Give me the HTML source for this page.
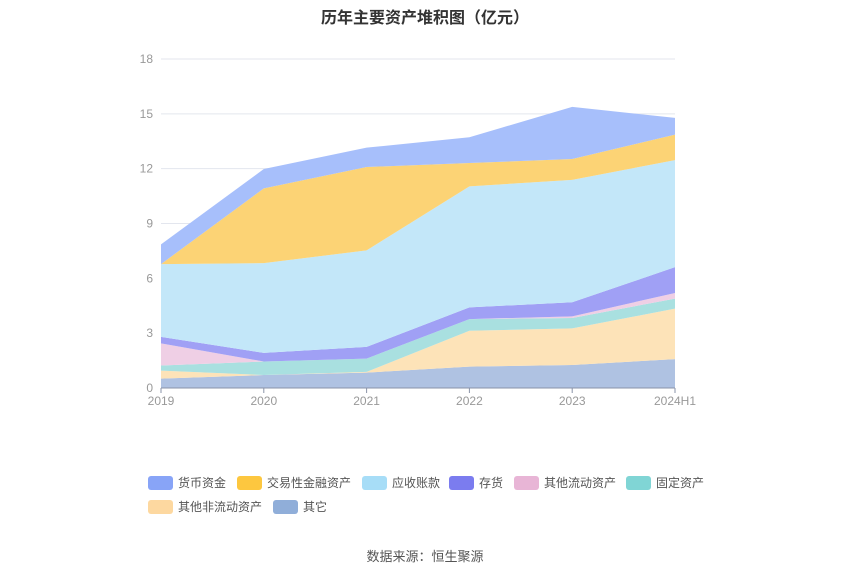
<!DOCTYPE html>
<html><head><meta charset="utf-8">
<style>
body{margin:0;background:#fff;font-family:"Liberation Sans","Noto Sans CJK SC",sans-serif;}
#wrap{position:relative;width:850px;height:575px;overflow:hidden;}
.title{position:absolute;top:4px;left:0;width:850px;text-align:center;font-size:16px;font-weight:bold;color:#333;}
.src{position:absolute;top:546px;left:0;width:850px;text-align:center;font-size:13px;color:#555;}
.lg{position:absolute;font-size:12px;color:#555;line-height:14px;}
.mk{position:absolute;width:25px;height:14px;border-radius:3px;}
</style></head>
<body>
<div id="wrap">
<div class="title">历年主要资产堆积图（亿元）</div>
<svg id="svg" width="850" height="575" style="position:absolute;left:0;top:0"></svg>
<div id="legend"></div>
<div class="src">数据来源：恒生聚源</div>
</div>
<script>
const categories=["2019","2020","2021","2022","2023","2024H1"];
const yTicks=[0,3,6,9,12,15,18];
const seriesNames=["其它","其他非流动资产","固定资产","其他流动资产","存货","应收账款","交易性金融资产","货币资金"];
const other=[0.51,0.71,0.84,1.17,1.26,1.58];
const nonCurrent=[0.44,0,0.04,1.96,2.0,2.76];
const fixedAssets=[0.28,0.74,0.73,0.64,0.57,0.55];
const otherCurrent=[1.21,0,0,0,0.09,0.31];
const inventory=[0.36,0.47,0.64,0.64,0.77,1.41];
const receivable=[3.98,4.91,5.28,6.62,6.70,5.86];
const trading=[0,4.09,4.56,1.28,1.14,1.39];
const cash=[1.08,1.06,1.06,1.41,2.85,0.92];
const seriesValues=[other,nonCurrent,fixedAssets,otherCurrent,inventory,receivable,trading,cash];
const fills=["#afc2e2","#fde3b8","#a9e0e0","#efcfe5","#a0a0f5","#c3e7f9","#fcd375","#a7bffb"];
const marks=["#90aed9","#fdd8a0","#80d5d5","#e8b5d6","#7b7cef","#a7ddf7","#fdc73f","#88a4f7"];
const slugs=["other","other-noncurrent","fixed-assets","other-current","inventory","receivable","trading-assets","cash"];
const X0=161,X1=675,Y0=388,Y1=59,YMAX=18;
const xs=i=>X0+(X1-X0)*i/(categories.length-1);
const ys=v=>Y0-(Y0-Y1)*v/YMAX;
const svg=document.getElementById('svg');const NS="http://www.w3.org/2000/svg";
function mk(t,a){const e=document.createElementNS(NS,t);for(const k in a)e.setAttribute(k,a[k]);svg.appendChild(e);return e;}
yTicks.forEach(t=>{
 if(t>0){const g=mk('line',{x1:X0,x2:X1,y1:ys(t),y2:ys(t),stroke:'#e3e6ee','stroke-width':1});
 
 }
 const l=mk('text',{x:153,y:ys(t)+4,'text-anchor':'end','font-size':12,fill:'#999'});l.textContent=t;
 
 
});
let base=categories.map(()=>0);
seriesValues.forEach((vals,s)=>{
 const top=base.map((b,i)=>b+vals[i]);
 let d='M'+top.map((v,i)=>xs(i)+','+ys(v)).join('L');
 for(let i=base.length-1;i>=0;i--)d+='L'+xs(i)+','+ys(base[i]);
 const p=mk('path',{d:d+'Z',fill:fills[s]});
 
 
 base=top;
});
const ax=mk('line',{x1:X0,x2:X1,y1:Y0,y2:Y0,stroke:'#8a93a8','stroke-width':1});


categories.forEach((c,i)=>{
 const tk=mk('line',{x1:xs(i),x2:xs(i),y1:Y0,y2:Y0+5,stroke:'#8a93a8'});
 
 
 const t=mk('text',{x:xs(i),y:405,'text-anchor':'middle','font-size':12,fill:'#999'});t.textContent=c;
 
 
});
const lgPos=[[7,148,476],[6,237,476],[5,362,476],[4,449,476],[3,514,476],[2,626,476],[1,148,500],[0,273,500]];
const lg=document.getElementById('legend');
lgPos.forEach(([s,x,y])=>{
 const m=document.createElement('div');m.className='mk';m.style.left=x+'px';m.style.top=y+'px';m.style.background=marks[s];
 
 
 lg.appendChild(m);
 const t=document.createElement('div');t.className='lg';t.style.left=(x+30)+'px';t.style.top=y+'px';t.textContent=seriesNames[s];
 
 
 lg.appendChild(t);
});
</script>
</body></html>
